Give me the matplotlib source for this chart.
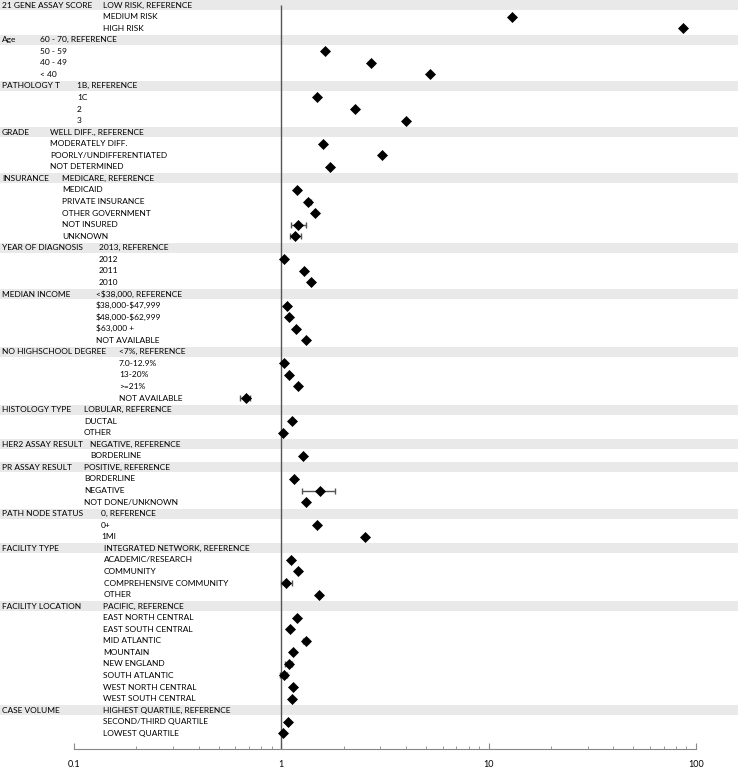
import numpy as np
import matplotlib.pyplot as plt
from matplotlib.transforms import blended_transform_factory

nan = np.nan

# group names and their levels (first level is the reference)
groups = ["21 GENE ASSAY SCORE", "Age", "PATHOLOGY T", "GRADE", "INSURANCE",
          "YEAR OF DIAGNOSIS", "MEDIAN INCOME", "NO HIGHSCHOOL DEGREE",
          "HISTOLOGY TYPE", "HER2 ASSAY RESULT", "PR ASSAY RESULT",
          "PATH NODE STATUS", "FACILITY TYPE", "FACILITY LOCATION", "CASE VOLUME"]

levels = [
    ["LOW RISK, REFERENCE", "MEDIUM RISK", "HIGH RISK"],
    ["60 - 70, REFERENCE", "50 - 59", "40 - 49", "< 40"],
    ["1B, REFERENCE", "1C", "2", "3"],
    ["WELL DIFF., REFERENCE", "MODERATELY DIFF.", "POORLY/UNDIFFERENTIATED", "NOT DETERMINED"],
    ["MEDICARE, REFERENCE", "MEDICAID", "PRIVATE INSURANCE", "OTHER GOVERNMENT",
     "NOT INSURED", "UNKNOWN"],
    ["2013, REFERENCE", "2012", "2011", "2010"],
    ["<$38,000, REFERENCE", "$38,000-$47,999", "$48,000-$62,999", "$63,000 +", "NOT AVAILABLE"],
    ["<7%, REFERENCE", "7.0-12.9%", "13-20%", ">=21%", "NOT AVAILABLE"],
    ["LOBULAR, REFERENCE", "DUCTAL", "OTHER"],
    ["NEGATIVE, REFERENCE", "BORDERLINE"],
    ["POSITIVE, REFERENCE", "BORDERLINE", "NEGATIVE", "NOT DONE/UNKNOWN"],
    ["0, REFERENCE", "0+", "1MI"],
    ["INTEGRATED NETWORK, REFERENCE", "ACADEMIC/RESEARCH", "COMMUNITY",
     "COMPREHENSIVE COMMUNITY", "OTHER"],
    ["PACIFIC, REFERENCE", "EAST NORTH CENTRAL", "EAST SOUTH CENTRAL", "MID ATLANTIC",
     "MOUNTAIN", "NEW ENGLAND", "SOUTH ATLANTIC", "WEST NORTH CENTRAL", "WEST SOUTH CENTRAL"],
    ["HIGHEST QUARTILE, REFERENCE", "SECOND/THIRD QUARTILE", "LOWEST QUARTILE"],
]

# odds ratios (reference rows have no marker)
odds = [
    [nan, 12.9, 87.0],
    [nan, 1.62, 2.70, 5.23],
    [nan, 1.48, 2.26, 4.01],
    [nan, 1.59, 3.07, 1.72],
    [nan, 1.19, 1.35, 1.46, 1.21, 1.17],
    [nan, 1.03, 1.28, 1.39],
    [nan, 1.07, 1.085, 1.18, 1.31],
    [nan, 1.03, 1.09, 1.21, 0.673],
    [nan, 1.13, 1.02],
    [nan, 1.27],
    [nan, 1.15, 1.54, 1.31],
    [nan, 1.48, 2.53],
    [nan, 1.11, 1.20, 1.05, 1.52],
    [nan, 1.19, 1.10, 1.31, 1.14, 1.085, 1.03, 1.135, 1.12],
    [nan, 1.08, 1.02],
]

ci_low = [
    [nan, nan, nan],
    [nan, nan, nan, nan],
    [nan, nan, nan, nan],
    [nan, nan, nan, nan],
    [nan, nan, 1.31, nan, 1.11, 1.10],
    [nan, nan, nan, nan],
    [nan, nan, nan, nan, nan],
    [nan, nan, nan, nan, 0.632],
    [nan, nan, nan],
    [nan, nan],
    [nan, nan, 1.26, nan],
    [nan, nan, nan],
    [nan, nan, nan, 1.00, nan],
    [nan, nan, nan, 1.27, nan, 1.04, 0.99, nan, nan],
    [nan, nan, nan],
]

ci_high = [
    [nan, nan, nan],
    [nan, nan, nan, nan],
    [nan, nan, nan, nan],
    [nan, nan, nan, nan],
    [nan, nan, 1.39, nan, 1.31, 1.25],
    [nan, nan, nan, nan],
    [nan, nan, nan, nan, nan],
    [nan, nan, nan, nan, 0.706],
    [nan, nan, nan],
    [nan, nan],
    [nan, nan, 1.82, nan],
    [nan, nan, nan],
    [nan, nan, nan, 1.12, nan],
    [nan, nan, nan, 1.35, nan, 1.13, 1.07, nan, nan],
    [nan, nan, nan],
]

# x pixel where the level text of each group starts
level_x = [103, 40, 77, 50, 62, 99, 96, 119, 84, 90, 84, 101, 104, 103, 103]

W, H = 738, 770
plt.rcParams['font.family'] = ['Lato', 'DejaVu Sans']
plt.rcParams['text.parse_math'] = False
fig = plt.figure(figsize=(W / 100, H / 100), dpi=100)

row_px = 11.56
first_px = 5
axis_px = 749
ax = fig.add_axes([0, 1 - axis_px / H, 1, axis_px / H])
ax.set_ylim((axis_px - first_px) / row_px, -first_px / row_px)

# log axis: 1 at pixel 281.3, one decade = 207.3 px
x0 = 10 ** ((0 - 281.3) / 207.3)
x1 = 10 ** ((W - 281.3) / 207.3)
ax.set_xscale('log')
ax.set_xlim(x0, x1)

trans = blended_transform_factory(ax.transAxes, ax.transData)

row = 0
ys, vals, lows, highs = [], [], [], []
for g, name in enumerate(groups):
    ax.axhspan(row - 0.43, row + 0.43, color='#e9e9e9', zorder=0, lw=0)
    ax.text(2 / W, row, name, transform=trans, fontsize=6, va='center', ha='left')
    for k, lev in enumerate(levels[g]):
        ax.text(level_x[g] / W, row, lev, transform=trans, fontsize=6,
                va='center', ha='left')
        ys.append(row)
        vals.append(odds[g][k])
        lows.append(ci_low[g][k])
        highs.append(ci_high[g][k])
        row += 1

ys = np.array(ys)
vals = np.array(vals)
lows = np.array(lows)
highs = np.array(highs)

ax.vlines(1, 0, (axis_px - first_px) / row_px, color='#555555', lw=1, zorder=2)

has_ci = ~np.isnan(lows)
ax.errorbar(vals[has_ci], ys[has_ci],
            xerr=[vals[has_ci] - lows[has_ci], highs[has_ci] - vals[has_ci]],
            fmt='none', ecolor='#555555', elinewidth=1, capsize=2.5, capthick=1, zorder=3)
ax.plot(vals, ys, 'D', color='black', ms=5, mew=0.5, zorder=4)

for s in ['left', 'right', 'top']:
    ax.spines[s].set_visible(False)
ax.spines['bottom'].set_bounds(0.1, 100)
ax.spines['bottom'].set_color('#888888')
ax.set_yticks([])
ax.set_xticks([0.1, 1, 10, 100])
ax.set_xticklabels(['0.1', '1', '10', '100'])
ax.tick_params(axis='x', which='major', direction='in', length=4, color='#888888',
               labelsize=6.5, pad=8)
ax.tick_params(axis='x', which='minor', direction='in', length=2.5, color='#888888')
ax.set_xticks([m * 10.0 ** e for e in (-1, 0, 1) for m in range(2, 10)], minor=True)
ax.xaxis.set_minor_formatter(plt.NullFormatter())

fig.savefig('out.png', dpi=100)
